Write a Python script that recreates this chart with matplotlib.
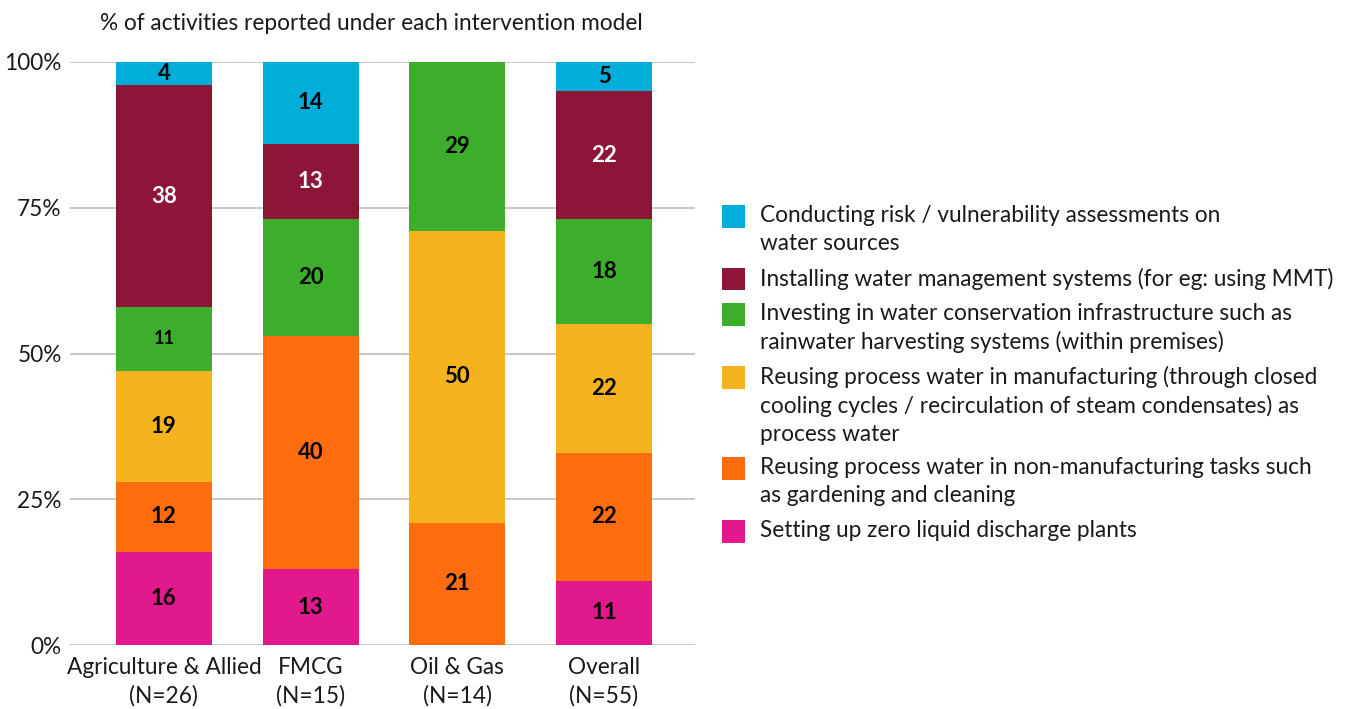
import numpy as np
import matplotlib.pyplot as plt
from matplotlib.patches import Rectangle

plt.rcParams["font.family"] = ["Lato", "DejaVu Sans"]

W, H = 1345, 709
FS = 16.3

# sectors and their sample sizes
sectors = ["Agriculture & Allied\n(N=26)", "FMCG\n(N=15)", "Oil & Gas\n(N=14)", "Overall\n(N=55)"]

# share of activities (%) per intervention model, bottom to top of each stack
zld_plants = [16, 13, 0, 11]
reuse_non_mfg = [12, 40, 21, 22]
reuse_mfg = [19, 0, 50, 22]
conservation_infra = [11, 20, 29, 18]
mgmt_systems = [38, 13, 0, 22]
risk_assessment = [4, 14, 0, 5]

series_labels = [
    "Setting up zero liquid discharge plants",
    "Reusing process water in non-manufacturing tasks such\nas gardening and cleaning",
    "Reusing process water in manufacturing (through closed\ncooling cycles / recirculation of steam condensates) as\nprocess water",
    "Investing in water conservation infrastructure such as\nrainwater harvesting systems (within premises)",
    "Installing water management systems (for eg: using MMT)",
    "Conducting risk / vulnerability assessments on\nwater sources",
]
series = [zld_plants, reuse_non_mfg, reuse_mfg, conservation_infra, mgmt_systems, risk_assessment]
colors = ["#E2198C", "#FF6D0F", "#F4B31C", "#3DAE2B", "#8D1538", "#00AED9"]
text_colors = ["black", "black", "black", "black", "white", "black"]

fig = plt.figure(figsize=(W / 100, H / 100), dpi=100)
ax = fig.add_axes([70 / W, 1 - 645 / H, 625 / W, 583 / H])

x = np.arange(len(sectors))
bottom = np.zeros(len(sectors))
for vals, col, tcol in zip(series, colors, text_colors):
    vals = np.array(vals, dtype=float)
    ax.bar(x, vals, width=0.653, bottom=bottom, color=col, zorder=3)
    for xi, v, b in zip(x, vals, bottom):
        if v > 0:
            fs = 13 if v < 12 and col == "#3DAE2B" else 16
            ax.text(xi, b + v / 2, f"{v:.0f}", ha="center", va="center",
                    fontsize=fs, fontweight="bold", color=tcol, zorder=4)
    bottom += vals

ax.set_xlim(-0.64, 3.62)
ax.set_ylim(0, 100)
ax.set_yticks([0, 25, 50, 75, 100])
ax.set_yticklabels(["0%", "25%", "50%", "75%", "100%"])
ax.set_xticks(x)
ax.set_xticklabels(sectors, linespacing=1.4)
ax.tick_params(axis="both", length=0, labelsize=FS, colors="#1a1a1a")
ax.tick_params(axis="y", pad=6)
ax.tick_params(axis="x", pad=9)
ax.grid(axis="y", color="#BDBDBD", linewidth=1.2, zorder=0)
for s in ax.spines.values():
    s.set_visible(False)

fig.text(100 / W, 1 - 23 / H, "% of activities reported under each intervention model",
         fontsize=FS, va="center", ha="left", color="#1a1a1a")

# legend: square aligned with the first line of each wrapped label
line_h = 28
gap = 7
y = 216
for col, lab in zip(colors[::-1], series_labels[::-1]):
    fig.patches.append(Rectangle((722 / W, 1 - (y + 11.5) / H), 23 / W, 23 / H,
                                 transform=fig.transFigure, facecolor=col,
                                 edgecolor="none"))
    fig.text(760 / W, 1 - (y - line_h / 2 + 3) / H, lab, fontsize=FS, va="top",
             ha="left", linespacing=1.39, color="#1a1a1a")
    y += line_h * (lab.count("\n") + 1) + gap

fig.savefig("out.png", dpi=100)
